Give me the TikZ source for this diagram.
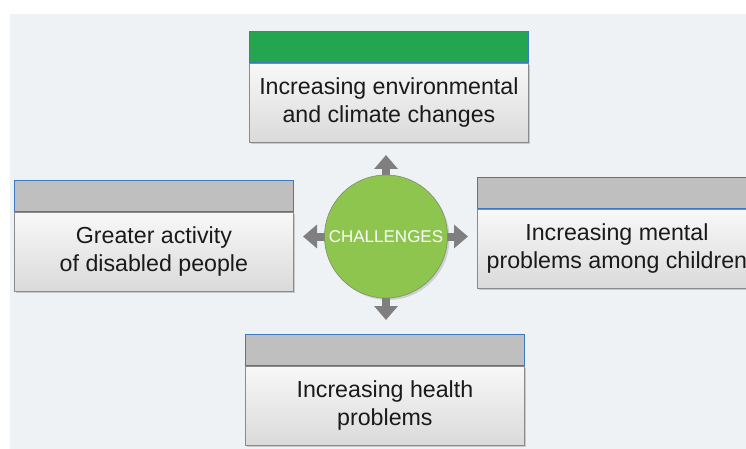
\documentclass[tikz,border=0pt]{standalone}
\usepackage{fontspec}
\setmainfont{Liberation Sans}
\usetikzlibrary{arrows.meta,shadows}
\definecolor{bgpanel}{HTML}{EFF2F4}
\definecolor{hdgrey}{HTML}{BFBFBF}
\definecolor{hdgreen}{HTML}{23A64F}
\definecolor{hdedge}{HTML}{3C78C3}
\definecolor{bodytop}{HTML}{F8F8F8}
\definecolor{bodybot}{HTML}{DADADA}
\definecolor{bodyedge}{HTML}{8A8A8A}
\definecolor{hub}{HTML}{8DC54F}
\definecolor{hubedge}{HTML}{7D8F6A}
\definecolor{arrowgrey}{HTML}{7F7F7F}
\definecolor{ink}{HTML}{1A1A1A}
\begin{document}
\begin{tikzpicture}[x=1pt,y=-1pt,
  header/.style={draw=hdedge, line width=0.8pt, minimum width=279pt,
    minimum height=31pt, inner sep=0pt, anchor=north west},
  body/.style={draw=bodyedge, line width=0.8pt, top color=bodytop,
    bottom color=bodybot, minimum width=279pt, minimum height=79pt,
    anchor=north, inner sep=0pt, align=center, text=ink,
    font=\fontsize{23.2}{28}\selectfont,
    drop shadow={shadow xshift=1.5pt, shadow yshift=-1.5pt, opacity=0.35}},
  hubnode/.style={circle, fill=hub, draw=hubedge, line width=0.6pt,
    minimum size=123pt, inner sep=0pt, text=white,
    font=\fontsize{17}{20}\selectfont,
    drop shadow={shadow xshift=2pt, shadow yshift=-2pt, opacity=0.3}},
  burst/.style={draw=arrowgrey, line width=8pt,
    -{Triangle[width=23pt,length=14pt]}}
]
\useasboundingbox (0,0) rectangle (746,449);
\clip (0,0) rectangle (746,449);
\fill[bgpanel] (10,14) rectangle (746,449);

% top box
\node[header, fill=hdgreen] (envHead) at (249,31) {};
\node[body] (env) at (envHead.south) {Increasing environmental\\and climate changes};
% left box
\node[header, fill=hdgrey] (disHead) at (14,180) {};
\node[body] (dis) at (disHead.south) {Greater activity\\of disabled people};
% right box
\node[header, fill=hdgrey] (menHead) at (477,177) {};
\node[body] (men) at (menHead.south) {Increasing mental\\problems among children};
% bottom box
\node[header, fill=hdgrey] (heaHead) at (245,334) {};
\node[body] (hea) at (heaHead.south) {Increasing health\\problems};

% arrow tips around the hub
\coordinate (tipN) at (386,155);
\coordinate (tipS) at (386,320);
\coordinate (tipW) at (303,236.5);
\coordinate (tipE) at (468,236.5);
\coordinate (hubc) at (386,236.5);
\draw[burst] (hubc) -- (tipN);
\draw[burst] (hubc) -- (tipS);
\draw[burst] (hubc) -- (tipW);
\draw[burst] (hubc) -- (tipE);

\node[hubnode] (hub) at (hubc) {CHALLENGES};
\end{tikzpicture}
\end{document}
